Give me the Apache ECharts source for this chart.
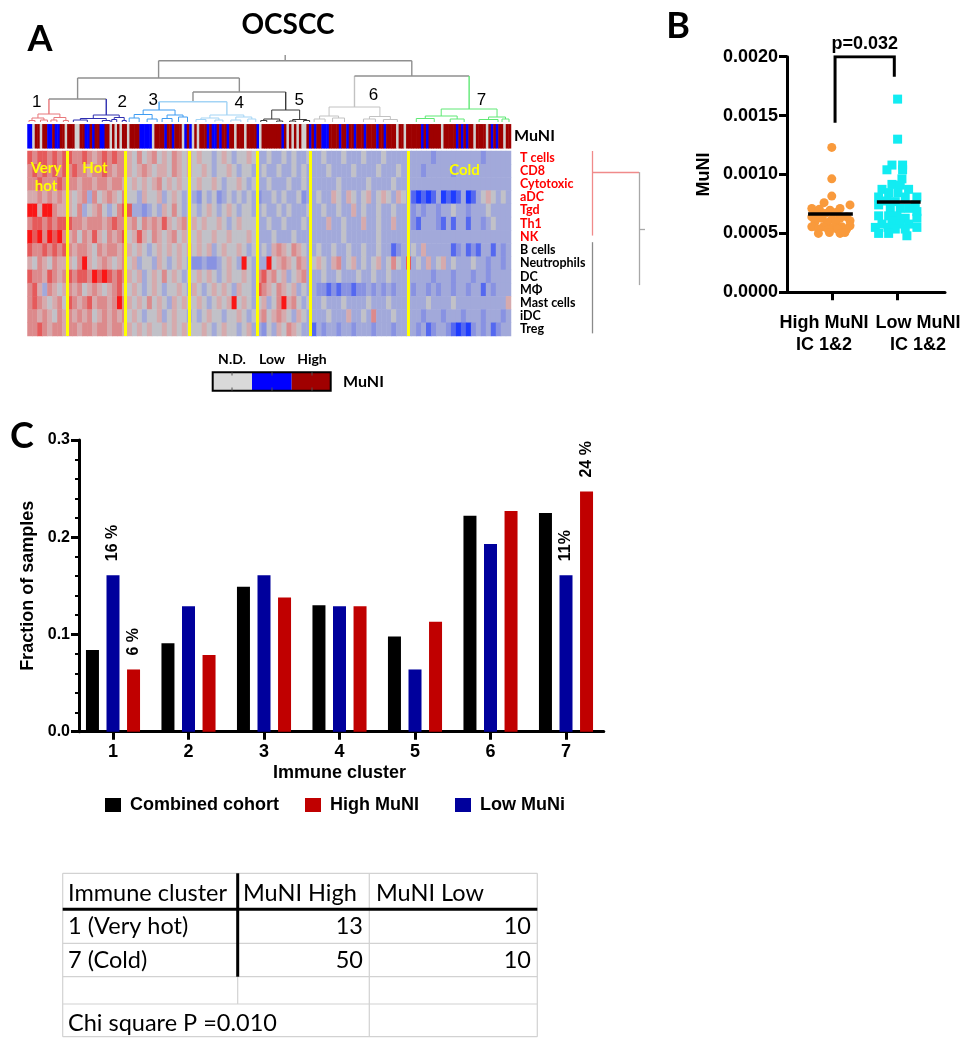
<!DOCTYPE html>
<html><head><meta charset="utf-8">
<script src="https://cdn.jsdelivr.net/npm/echarts@6/dist/echarts.min.js"></script>
<style>html,body{margin:0;padding:0;background:#fff}#c{width:970px;height:1050px}</style>
</head><body><div id="c"></div><script>
// ---------------- DATA ----------------
// Panel A: immune-cell rows of the heatmap
const rowNames = ['T cells','CD8','Cytotoxic','aDC','Tgd','Th1','NK','B cells','Neutrophils','DC','MΦ','Mast cells','iDC','Treg'];
const redRowCount = 7;
// heatmap levels 0 (strong blue) .. 4 (grey) .. 8 (strong red); segments = immune clusters 1..7
const heatRows = [
 ['76776767','766765676766','5464564546545','4544345434454','33433434334','3343334333433343333','333332333333333233333'],
 ['67676767','676656676566','5456545546545','4454344543443','34334334343','3334333343333433343','333233333233333333333'],
 ['66766676','665665665665','4545456454544','4544543445434','33433343343','3333343333343333433','333333333333333333333'],
 ['55656565','545636456546','4435445345434','3243423434343','23343433423','3433543543453454354','310101301013013454343'],
 ['88588655','546345643467','7332343546434','4345434543443','34334343334','3343343353433433433','323233233433233343333'],
 ['67767677','766566656766','5646565754564','5454454345444','33433433343','3335334333533433533','321333213133133234333'],
 ['87868786','564657546567','4575465456454','4544544544454','33343334333','3333334333333433333','333333333333333333333'],
 ['76676767','656654656656','5454345454545','4545345445434','34356546543','3433433433433433123','343533333123121331323'],
 ['54654655','546854565456','4534435434543','2232234543843','33845654653','4543563453434534643','734353453433343323323'],
 ['76657656','767768787676','5453454645434','4545434544543','67564534563','3343343334334334333','333332333233323323333'],
 ['67536545','656456545675','4543454344543','5434545435443','76546545343','3221212212232323233','323323233233233132333'],
 ['67654564','765675665686','5454645435454','4543454584543','45346856434','3343334333343334333','333343333433333333335'],
 ['66565465','656564565656','4543445345443','4345443445434','56456543543','3334333533436333433','333233323332333233323'],
 ['66765665','665665665665','5454544545454','4454345443453','32435465433','1323323323332333233','332312332101023231233']
];
// MuNI status per sample column: g = N.D., b = Low, r = High
const muniStrip = [
 'bbgrrgrrbbrbbrrg',
 'rrrggrrbbrbrrbbrrgrgrgrr',
 'grrrrbbbbbgrrrrbrrbrrrgbrb',
 'grgrrrbrbbrbrrbrrgrrrgrrrrb',
 'grrrrrrrrbrgrgrgrggrbr',
 'brrbbbrrrrbrrbrrbrrrbrrrrbrrbrrrrgrrgr',
 'rrrrrbrbrrrrrgrrrrrbrbrbrrgrrrrgrbrbrrgrr'
].join('');
// cluster boundaries (in heatmap column units)
const clusterBounds = [7.9, 19.6, 32.5, 46.0, 56.7, 76.3];
const heatText = [['Very', 46, 168.5], ['hot', 46, 186], ['Hot', 95, 168], ['Cold', 464.5, 170]];
// dendrogram merges: [xLeft, hLeft, xRight, hRight, hMerge, colorLeft, colorMid, colorRight] or [.., color]
const dendroRoot = [51.7, 61.3, 67];
const dendroMerges = [
 [26.3,44, 77.1,46, 61.3, 0,0,0],
 [10.05,23, 42.5,30, 44, 0,0,0],
 [65.6,15, 88.6,13, 46, 6,0,7],
 [4.3,8, 15.8,7, 23, 1,0,2],
 [33.2,20.3, 51.8,12, 30, 0,0,5],
 [26.4,12, 40.0,7, 20.3, 3,4,4],
 // cluster 1
 [2.1,4, 6.5,4.5, 8, 1],[0.9,1.5, 3.3,2, 4, 1],[5.3,2, 7.7,1.5, 4.5, 1],
 [0.3,0, 1.5,0, 1.5, 1],[2.6,0, 4.0,0, 2, 1],[4.7,0, 5.9,0, 2, 1],[7.2,0, 8.2,0, 1.5, 1],
 // cluster 2
 [13.2,3.5, 18.4,4.5, 7, 2],[10.6,2, 15.8,1.5, 3.5, 2],[17.4,2.5, 19.4,1.5, 4.5, 2],
 [9.2,0, 12.0,0, 2, 2],[15.0,0, 16.6,0, 1.5, 2],[16.9,0, 17.9,0, 2.5, 2],[19.0,0, 19.8,0, 1.5, 2],
 // cluster 3
 [23.2,7.5, 29.6,7, 12, 3],[21.4,4, 25.0,3, 7.5, 3],[28.0,3.5, 31.2,5, 7, 3],
 [20.4,0, 22.4,0, 4, 3],[24.0,0, 26.0,0, 3, 3],[27.0,0, 29.0,0, 3.5, 3],[30.3,0, 32.1,0, 5, 3],
 // cluster 4
 [36.6,4, 43.4,5, 7, 4],[34.8,2.5, 38.4,2, 4, 4],[41.8,2, 45.0,3, 5, 4],
 [33.8,0, 35.8,0, 2.5, 4],[37.6,0, 39.2,0, 2, 4],[40.8,0, 42.8,0, 2, 4],[44.2,0, 45.8,0, 3, 4],
 // cluster 5
 [49.0,3, 54.6,2.5, 12, 5],[47.4,1.5, 50.6,1, 3, 5],[53.2,1, 56.0,1.5, 2.5, 5],
 [46.8,0, 48.0,0, 1.5, 5],[50.0,0, 51.2,0, 1, 5],[52.6,0, 53.8,0, 1, 5],[55.4,0, 56.6,0, 1.5, 5],
 // cluster 6
 [60.5,6, 70.7,5.5, 15, 6],[58.6,3, 62.4,4, 6, 6],[68.6,3, 72.8,2.5, 5.5, 6],
 [57.5,0, 59.7,0, 3, 6],[61.2,0, 63.6,0, 4, 6],[67.4,0, 69.8,0, 3, 6],[71.4,0, 74.2,0, 2.5, 6],
 // cluster 7
 [83.0,6, 94.2,5, 13, 7],[79.8,3.5, 86.2,3, 6, 7],[92.5,2.5, 95.9,3, 5, 7],
 [78.0,0, 81.6,0, 3.5, 7],[84.8,0, 87.6,0, 3, 7],[90.6,0, 94.4,0, 2.5, 7],[95.2,0, 96.6,0, 3, 7]
];
const clusterNames = ['1','2','3','4','5','6','7'];
const clusterLabelAt = [[1.85,19.5],[18.98,19.5],[25.2,21.2],[42.5,19],[54.5,21.2],[69.4,26.2],[91.1,21.5]];
// row dendrogram segments [[x,row],[x,row], colorKey]
const rowDendro = [
 [[0.7,-0.1],[0.7,6.4],'r'], [[0.7,1.6],[5.4,1.6],'r'], [[5.4,1.6],[5.4,10.15],'g'],
 [[5.4,5.9],[6.0,5.9],'g'], [[0.7,6.9],[0.7,13.8],'k']
];

// Panel B
const bCategories = ['High MuNI\nIC 1&2', 'Low MuNI\nIC 1&2'];
const highMuNI = [
 [1.0,0.00123],[1.0,0.000963],[1.0,0.000817],[0.883,0.000761],[1.277,0.000742],
 [0.697,0.000711],[0.812,0.000705],[0.974,0.000697],[1.126,0.000711],[0.773,0.000669],
 [0.898,0.000669],[1.065,0.000677],[0.697,0.00064],[1.227,0.00064],[0.848,0.000629],
 [1.0,0.000621],[1.126,0.000629],[1.277,0.000607],[0.747,0.000601],[0.933,0.000593],
 [1.065,0.000601],[0.697,0.000556],[0.873,0.000556],[1.025,0.000551],[1.152,0.000556],
 [1.277,0.000565],[0.797,0.000537],[0.948,0.000531],[1.085,0.000537],[1.227,0.000537],
 [0.797,0.0005],[0.964,0.000508],[1.126,0.0005],[1.2,0.000508]
];
const lowMuNI = [
 [2.0,0.00164],[2.0,0.0013],[1.914,0.00108],[2.076,0.00108],[1.838,0.00104],[2.076,0.00104],
 [2.066,0.000963],[1.914,0.000916],[2.04,0.00091],[1.763,0.000874],[2.167,0.000874],
 [1.864,0.000846],[2.005,0.000846],[1.712,0.000809],[2.116,0.000809],[2.293,0.000809],
 [1.838,0.000775],[1.965,0.00077],[1.712,0.000742],[2.268,0.000742],[1.889,0.000713],
 [2.04,0.000713],[2.167,0.000713],[2.293,0.000685],[1.712,0.000649],[1.864,0.000649],
 [1.99,0.000649],[2.116,0.000629],[2.293,0.000629],[1.914,0.000607],[1.763,0.000579],
 [2.04,0.000579],[2.167,0.000579],[2.293,0.000551],[1.662,0.000551],[1.854,0.000551],
 [1.965,0.000537],[2.116,0.000537],[1.712,0.0005],[1.864,0.0005],[2.141,0.00048]
];
const bMeans = [0.000665, 0.000765];
const pValueText = 'p=0.032';
const bBracket = [[1.05,0.00144],[1.05,0.002],[1.95,0.002],[1.95,0.00183]];

// Panel C
const icLabels = ['1','2','3','4','5','6','7'];
const combinedFrac = [0.084, 0.091, 0.149, 0.130, 0.098, 0.222, 0.225];
const lowFrac      = [0.161, 0.129, 0.161, 0.129, 0.064, 0.193, 0.161];
const highFrac     = [0.064, 0.079, 0.138, 0.129, 0.113, 0.227, 0.247];
const lowPct  = ['16 %','','','','','','11%'];
const highPct = ['6 %','','','','','','24 %'];

// Table
const tableHeader = ['Immune cluster','MuNI High','MuNI Low'];
const tableRows = [['1 (Very hot)','13','10'],['7 (Cold)','50','10']];
const tableFooter = 'Chi square P =0.010';

// ---------------- STYLE ----------------
const FA = 'Lato, "Open Sans", sans-serif';
const FG = '"Liberation Sans", Arial, sans-serif';
const heatColors = ['#1e3cff','#5468f0','#8892e2','#a2a9da','#c1c1c8','#d6aaad','#dc8a8c','#e55a5b','#fa1616'];
const dColors = ['#8f8f8f','#e8777a','#2e2eb0','#3e9cf2','#a3d4f5','#3a3a3a','#c2c2c2','#5fe874'];

// ---------------- BUILD ----------------
const heatData = [];
heatRows.forEach((segs, r) => {
  const s = segs.join('');
  for (let c = 0; c < s.length; c++) heatData.push([c, r, +s[c]]);
});
const nCols = heatRows[0].join('').length;
const stripCode = {g:0, b:1, r:2};
const stripData = muniStrip.split('').map((ch, i) => [i, 0, stripCode[ch]]);

const dendroSegs = [];
function seg(a, b, col, w) { dendroSegs.push({coords:[a, b], lineStyle:{color:dColors[col], width:w}}); }
dendroMerges.forEach(m => {
  const [xl, hl, xr, hr, h] = m;
  const cl = m[5], cm = m.length > 6 ? m[6] : m[5], cr = m.length > 6 ? m[7] : m[5];
  const w = m.length > 6 ? 1.4 : 1;
  seg([xl, hl], [xl, h], cl, w);
  seg([xl, h], [xr, h], cm, w);
  seg([xr, h], [xr, hr], cr, w);
});
seg([dendroRoot[0], dendroRoot[1]], [dendroRoot[0], dendroRoot[2]], 0, 1.4);

const rowColors = {r:'#f08a8a', g:'#a8a8a8', k:'#8a8a8a'};
const hidden = (gi, extra) => Object.assign({gridIndex: gi, show: false}, extra);

const series = [];
series.push({type:'lines', coordinateSystem:'cartesian2d', xAxisIndex:0, yAxisIndex:0, polyline:true, silent:true, data:dendroSegs, lineStyle:{opacity:1}, z:3});
const stripIdx = series.length;
series.push({type:'heatmap', xAxisIndex:1, yAxisIndex:1, data:stripData, silent:true, itemStyle:{borderWidth:0}});
const heatIdx = series.length;
series.push({type:'heatmap', xAxisIndex:2, yAxisIndex:2, data:heatData, silent:true, itemStyle:{borderWidth:0}});
series.push({type:'lines', coordinateSystem:'cartesian2d', xAxisIndex:3, yAxisIndex:3, silent:true, z:5,
  data: clusterBounds.map(b => ({coords:[[b,0],[b,1]]})), lineStyle:{color:'#ffff00', width:3, opacity:1}});
series.push({type:'lines', coordinateSystem:'cartesian2d', xAxisIndex:4, yAxisIndex:4, silent:true,
  data: rowDendro.map(d => ({coords:[d[0], d[1]], lineStyle:{color:rowColors[d[2]], width:1.3}})), lineStyle:{opacity:1}});
// Panel B
series.push({type:'scatter', name:'High', xAxisIndex:5, yAxisIndex:5, data:highMuNI, symbol:'circle', symbolSize:9, itemStyle:{color:'#f99a3c', opacity:1}, silent:true});
series.push({type:'scatter', name:'Low', xAxisIndex:5, yAxisIndex:5, data:lowMuNI, symbol:'rect', symbolSize:9, itemStyle:{color:'#12ecf2', opacity:1}, silent:true});
series.push({type:'lines', coordinateSystem:'cartesian2d', xAxisIndex:5, yAxisIndex:5, silent:true, z:6,
  data:[{coords:[[0.64,bMeans[0]],[1.32,bMeans[0]]]},{coords:[[1.685,bMeans[1]],[2.35,bMeans[1]]]}],
  lineStyle:{color:'#000', width:3.5, opacity:1}});
series.push({type:'lines', coordinateSystem:'cartesian2d', xAxisIndex:5, yAxisIndex:5, silent:true, polyline:true, z:6,
  data:[{coords:bBracket}], lineStyle:{color:'#000', width:3, opacity:1}});
// Panel C
const pctLabel = {show:false, position:'top', rotate:90, align:'left', verticalAlign:'middle', distance:14, color:'#000', fontFamily:FG, fontWeight:'bold', fontSize:16};
const withPct = (vals, pcts) => vals.map((v, i) => pcts[i] ? {value:v, label:{show:true, formatter:pcts[i]}} : v);
series.push({type:'bar', name:'Combined cohort', xAxisIndex:6, yAxisIndex:6, data:combinedFrac, barWidth:13, barGap:'58%', itemStyle:{color:'#000'}, silent:true});
series.push({type:'bar', name:'Low MuNi', xAxisIndex:6, yAxisIndex:6, data:withPct(lowFrac, lowPct), barWidth:13, barGap:'58%', itemStyle:{color:'#00009c'}, label:pctLabel, silent:true});
series.push({type:'bar', name:'High MuNI', xAxisIndex:6, yAxisIndex:6, data:withPct(highFrac, highPct), barWidth:13, barGap:'58%', itemStyle:{color:'#c00000'}, label:pctLabel, silent:true});

// graphics
const G = [];
function txt(x, y, text, font, align, fill) {
  G.push({type:'text', x, y, z:100, silent:true, style:{text, font, fill: fill || '#000',
    textAlign: align || 'left', align: align || 'left', textVerticalAlign:'middle', verticalAlign:'middle'}});
}
function line(x1, y1, x2, y2, stroke, w) {
  G.push({type:'line', z:100, silent:true, shape:{x1, y1, x2, y2}, style:{stroke, lineWidth:w}});
}
function rect(x, y, w, h, fill, stroke, lw) {
  G.push({type:'rect', z:100, silent:true, shape:{x, y, width:w, height:h}, style:{fill, stroke: stroke || null, lineWidth: lw || 0}});
}
txt(40, 39, 'A', 'bold 36px ' + FA, 'center');
txt(678, 26, 'B', 'bold 36px ' + FA, 'center');
txt(22, 436, 'C', 'bold 36px ' + FA, 'center');
txt(288, 25, 'OCSCC', 'bold 28px ' + FA, 'center');
heatText.forEach(t => txt(t[1], t[2], t[0], 'bold 15px ' + FA, 'center', '#ffff00'));
// MuNI legend
rect(212.7, 372.3, 39.3, 18.4, '#d9d9d9');
rect(252, 372.3, 39.7, 18.4, '#0000ff');
rect(291.7, 372.3, 39, 18.4, '#a00000');
rect(212.7, 372.3, 118, 18.4, null, '#000', 2);
[232, 272, 312].forEach(x => { line(x, 372.3, x, 375.5, '#555', 1); line(x, 387.5, x, 390.7, '#555', 1); });
[['N.D.', 232], ['Low', 272], ['High', 312]].forEach(t => txt(t[1], 359, t[0], 'bold 14px ' + FA, 'center'));
txt(343, 382, 'MuNI', 'bold 16px ' + FA, 'left');
// panel B category labels (offset from the ticks as in the original)
bCategories.forEach((c, i) => {
  const cx = [824, 918][i];
  c.split('\n').forEach((ln, j) => txt(cx, 323 + 22 * j, ln, 'bold 18px ' + FG, 'center'));
});
// table
const TX = [62.7, 237.7, 369.3, 537.3], TY = [873.3, 909.3, 943.3, 976.7, 1004, 1036.7];
const thin = '#d2d2d2';
[TY[0], TY[2], TY[3], TY[4], TY[5]].forEach(y => line(TX[0], y, TX[3], y, thin, 1.2));
line(TX[0], TY[0], TX[0], TY[5], thin, 1.2);
line(TX[3], TY[0], TX[3], TY[5], thin, 1.2);
line(TX[2], TY[0], TX[2], TY[5], thin, 1.2);
line(TX[1], TY[3], TX[1], TY[4], thin, 1.2);
line(TX[1], TY[0], TX[1], TY[3], '#000', 3);
line(TX[0], TY[1], TX[3], TY[1], '#000', 3);
const tf = '23.5px ' + FA;
txt(68, 893, tableHeader[0], tf); txt(243, 893, tableHeader[1], tf); txt(376, 893, tableHeader[2], tf);
tableRows.forEach((r, i) => {
  const y = [926.5, 960][i];
  txt(68, y, r[0], tf); txt(363, y, r[1], tf, 'right'); txt(531, y, r[2], tf, 'right');
});
txt(68, 1023, tableFooter, tf);

const boldG = (size) => ({color:'#000', fontFamily:FG, fontWeight:'bold', fontSize:size});

const option = {
  animation:false,
  backgroundColor:'#fff',
  textStyle:{fontFamily:FG},
  grid:[
    {left:27.5, top:50, width:483.5, height:72, outerBoundsMode:'none'},
    {left:27.5, top:124.3, width:483.5, height:24, outerBoundsMode:'none'},
    {left:27.5, top:151, width:483.5, height:185, outerBoundsMode:'none'},
    {left:27.5, top:151, width:483.5, height:185, outerBoundsMode:'none'},
    {left:585, top:151, width:65, height:185, outerBoundsMode:'none'},
    {left:787, top:56.7, width:158, height:235.6, outerBoundsMode:'none'},
    {left:75.25, top:440, width:528.5, height:291.7, outerBoundsMode:'none'}
  ],
  xAxis:[
    hidden(0, {type:'value', min:0, max:nCols}),
    hidden(1, {type:'category', data:muniStrip.split('').map((_, i) => i)}),
    hidden(2, {type:'category', data:heatData.filter(d => d[1] === 0).map(d => d[0])}),
    hidden(3, {type:'value', min:0, max:nCols}),
    hidden(4, {type:'value', min:0, max:6.5}),
    {gridIndex:5, type:'value', min:0.32, max:2.72,
      axisLine:{show:true, onZero:false, lineStyle:{color:'#000', width:3}},
      axisTick:{show:true, customValues:[1,2], length:8, lineStyle:{color:'#000', width:3}},
      axisLabel:{show:false},
      splitLine:{show:false}},
    {gridIndex:6, type:'category', data:icLabels,
      axisLine:{show:true, onZero:false, lineStyle:{color:'#000', width:3}},
      axisTick:{show:true, alignWithLabel:true, length:8, lineStyle:{color:'#000', width:3}},
      axisLabel:Object.assign({margin:11}, boldG(18)),
      name:'Immune cluster', nameLocation:'middle', nameGap:32, nameTextStyle:boldG(18)}
  ],
  yAxis:[
    hidden(0, {type:'value', min:0, max:72}),
    {gridIndex:1, type:'category', data:['MuNI'], position:'right', axisLine:{show:false}, axisTick:{show:false},
      axisLabel:{margin:3, color:'#000', fontFamily:FA, fontWeight:'bold', fontSize:16}},
    {gridIndex:2, type:'category', data:rowNames, inverse:true, position:'right', axisLine:{show:false}, axisTick:{show:false},
      axisLabel:{margin:9, interval:0, formatter:(v, i) => (i < redRowCount ? '{r|' : '{k|') + v + '}',
        rich:{r:{color:'#ff0000', fontFamily:FA, fontWeight:'bold', fontSize:12.5}, k:{color:'#000', fontFamily:FA, fontWeight:'bold', fontSize:12.5}}}},
    hidden(3, {type:'value', min:0, max:1}),
    hidden(4, {type:'value', min:0, max:14, inverse:true}),
    {gridIndex:5, type:'value', min:0, max:0.002, interval:0.0005,
      axisLine:{show:true, onZero:false, lineStyle:{color:'#000', width:3}},
      axisTick:{show:true, length:8, lineStyle:{color:'#000', width:3}},
      axisLabel:Object.assign({formatter:v => v.toFixed(4), margin:9}, boldG(18)),
      splitLine:{show:false},
      name:'MuNI', nameLocation:'middle', nameGap:74, nameRotate:90, nameTextStyle:boldG(18)},
    {gridIndex:6, type:'value', min:0, max:0.3, interval:0.1, offset:-3.75,
      axisLine:{show:true, onZero:false, lineStyle:{color:'#000', width:3}},
      axisTick:{show:true, length:8, lineStyle:{color:'#000', width:3}},
      minorTick:{show:true, splitNumber:5, length:4, lineStyle:{color:'#000', width:2}},
      axisLabel:Object.assign({formatter:v => v.toFixed(1), margin:9}, boldG(16)),
      splitLine:{show:false}, minorSplitLine:{show:false},
      name:'Fraction of samples', nameLocation:'middle', nameGap:36, nameRotate:90, nameTextStyle:boldG(18)}
  ],
  visualMap:[
    {type:'continuous', show:false, seriesIndex:heatIdx, dimension:2, min:0, max:8, inRange:{color:heatColors}},
    {type:'piecewise', show:false, seriesIndex:stripIdx, dimension:2,
      pieces:[{value:0, color:'#d0d0d0'}, {value:1, color:'#0000ff'}, {value:2, color:'#9e0000'}]}
  ],
  legend:[
    {data:['Combined cohort'], left:100, top:791, icon:'rect', itemWidth:16, itemHeight:14, textStyle:Object.assign({padding:[0,0,0,4]}, boldG(18)), selectedMode:false},
    {data:['High MuNI'], left:300, top:791, icon:'rect', itemWidth:16, itemHeight:14, textStyle:Object.assign({padding:[0,0,0,4]}, boldG(18)), selectedMode:false},
    {data:['Low MuNi'], left:450, top:791, icon:'rect', itemWidth:16, itemHeight:14, textStyle:Object.assign({padding:[0,0,0,4]}, boldG(18)), selectedMode:false}
  ],
  series,
  graphic:{elements:G}
};
const chart = echarts.init(document.getElementById('c'), null, {renderer:'canvas'});
chart.setOption(option);
// annotations anchored through the chart's own scales
clusterNames.forEach((n, i) => {
  const p = chart.convertToPixel({gridIndex:0}, clusterLabelAt[i]);
  txt(p[0], p[1], n, '17px ' + FG, 'center');
});
const pTop = chart.convertToPixel({gridIndex:5}, [(bBracket[1][0] + bBracket[2][0]) / 2, bBracket[1][1]]);
txt(pTop[0], pTop[1] - 13, pValueText, 'bold 18px ' + FG, 'center');
chart.setOption({graphic:{elements:G}});
</script></body></html>
